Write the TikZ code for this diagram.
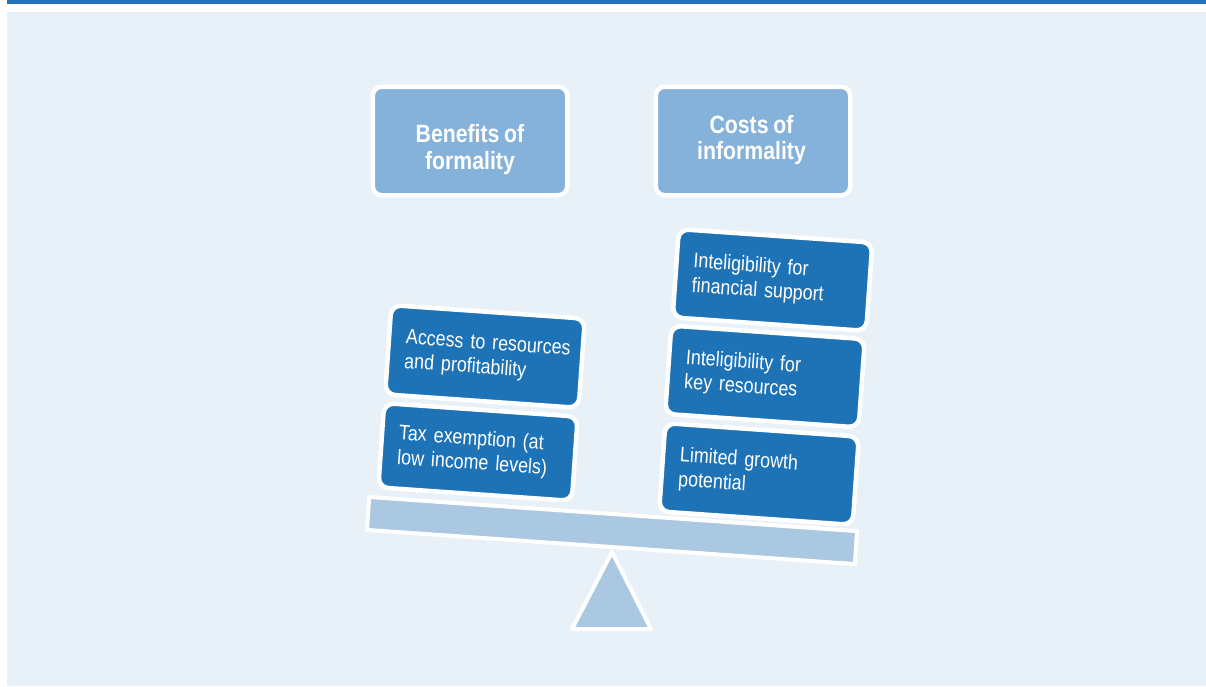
\documentclass[tikz,border=0pt]{standalone}
\usepackage{fontspec}
\setmainfont{Liberation Sans}[FakeStretch=0.85, WordSpace=0.8]
\definecolor{panelc}{HTML}{E8F0F8}
\definecolor{barc}{HTML}{1F74BB}
\definecolor{itemc}{HTML}{1E73B7}
\definecolor{hdrc}{HTML}{85B2DB}
\definecolor{beamc}{HTML}{AAC8E2}
\begin{document}
\begin{tikzpicture}[x=1pt,y=-1pt,
  hdrbox/.style={rectangle, rounded corners=9pt, fill=hdrc, draw=white, line width=4.5pt,
    minimum width=194.5pt, minimum height=108.5pt, inner sep=0pt},
  hdrtext/.style={text=white, font=\fontsize{25}{26.5}\selectfont\bfseries, align=center, inner sep=0pt},
  itembox/.style={rectangle, rounded corners=10pt, fill=itemc, draw=white, line width=4.5pt,
    rotate=-4, text=white, font=\fontsize{21}{24.5}\selectfont, align=left,
    text width=160pt, inner xsep=17pt, inner ysep=0pt, minimum height=88.5pt},
  beam/.style={rectangle, fill=beamc, draw=white, line width=4pt, rotate=-4,
    minimum width=489pt, minimum height=33pt, inner sep=0pt},
  pivot/.style={fill=beamc, draw=white, line width=4pt, line join=round}
]
\useasboundingbox (0,0) rectangle (1206,686);
% background
\fill[white] (0,0) rectangle (1206,686);
\fill[barc] (7,0) rectangle (1206,4.4);
\fill[panelc] (7,12) rectangle (1206,686);

% headers
\node[hdrbox] (hb) at (470,141) {};
\node[hdrtext] (hbt) at (470,149.5) {Benefits of\\formality};
\node[hdrbox] (hc) at (753,141) {};
\node[hdrtext] (hct) at (751.5,139.8) {Costs of\\informality};

% pivot and beam
\coordinate (apex) at (612,552);
\coordinate (bl) at (572,629);
\coordinate (br) at (651,629);
\draw[pivot] (apex) -- (br) -- (bl) -- cycle;
\node[beam] (bm) at (612,530.5) {};

% left pan
\node[itembox, minimum height=84.5pt] (tax) at (478,452) {\mbox{Tax exemption (at}\\\mbox{low income levels)}};
\node[itembox, minimum height=89.5pt] (acc) at (485,356.5) {\mbox{Access to resources}\\\mbox{and profitability}};

% right pan
\node[itembox] (lim) at (759,474) {\mbox{Limited growth}\\\mbox{potential}};
\node[itembox] (key) at (765,376.5) {\mbox{Inteligibility for}\\\mbox{key resources}};
\node[itembox] (fin) at (772.5,280) {\mbox{Inteligibility for}\\\mbox{financial support}};
\end{tikzpicture}
\end{document}
